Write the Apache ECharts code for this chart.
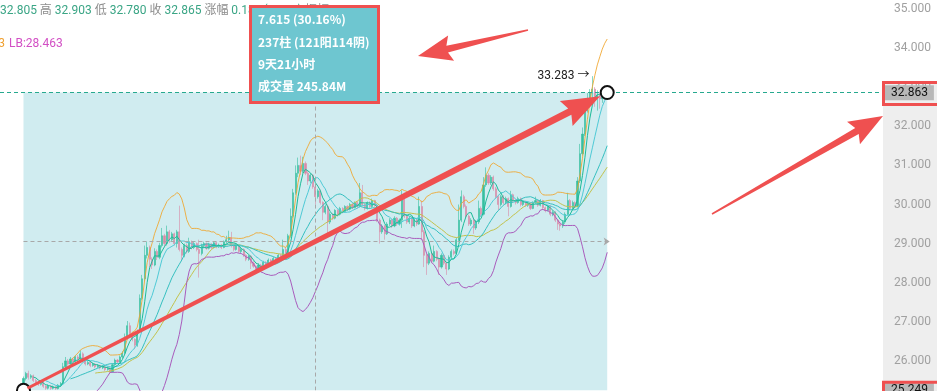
<!DOCTYPE html>
<html><head><meta charset="utf-8">
<script src="https://cdn.jsdelivr.net/npm/echarts@6/dist/echarts.min.js"></script>
<style>html,body{margin:0;padding:0;background:#fff;overflow:hidden}#c{width:937px;height:391px}</style>
</head><body><div id="c"></div>
<script>
// ---------- data ----------
const opens = [
25.28,25.55,25.68,25.58,25.62,25.50,25.45,25.40,25.46,25.35,
25.30,25.36,25.30,25.34,25.29,25.38,25.42,25.85,26.00,25.92,
26.05,25.98,26.10,26.05,26.18,26.00,25.92,25.96,25.88,25.92,
25.85,25.88,25.82,25.85,25.78,25.82,25.72,25.90,26.02,25.97,
26.10,26.20,26.60,26.90,26.70,26.55,26.40,26.75,27.60,28.10,
28.70,28.90,28.60,28.45,28.80,28.65,28.95,29.20,29.00,29.30,
29.10,29.25,29.00,29.30,28.85,28.70,28.95,28.80,29.05,28.90,
29.00,28.85,28.75,28.95,29.00,28.88,28.98,28.90,29.02,28.92,
28.96,28.90,29.05,29.10,29.15,28.95,28.85,28.95,28.80,28.85,
28.70,28.60,28.68,28.50,28.42,28.30,28.45,28.38,28.52,28.45,
28.58,28.50,28.62,28.55,28.70,28.65,28.85,28.75,29.20,29.70,
30.30,30.80,31.00,30.85,31.05,30.80,30.60,30.75,30.45,30.20,
30.35,30.05,29.80,29.95,29.55,29.75,29.65,29.85,29.75,29.90,
29.82,29.95,29.88,30.00,29.92,30.05,29.95,30.30,30.00,29.90,
30.05,29.95,30.10,29.98,29.60,29.30,29.45,29.25,29.50,29.60,
29.45,29.65,29.50,29.60,30.25,29.70,29.55,29.65,29.45,29.60,
29.50,29.95,29.30,28.70,28.50,28.75,28.55,28.80,28.60,28.40,
28.70,28.50,28.35,28.65,28.80,28.75,29.10,29.60,30.20,29.95,
29.70,29.50,29.60,29.40,29.55,29.90,29.75,30.50,30.75,30.55,
30.70,30.40,30.20,30.00,30.20,30.05,30.15,29.95,30.25,30.10,
30.05,30.15,30.00,30.08,29.98,30.02,29.90,30.05,30.10,29.98,
30.10,29.92,29.85,29.95,29.75,29.80,29.60,29.50,29.45,29.55,
29.75,30.10,29.90,30.05,29.95,30.60,31.30,31.80,32.40,32.70,
32.85,32.95,32.75,32.80,32.70,32.82,32.805];
const closes = [
25.55,25.68,25.58,25.62,25.50,25.45,25.40,25.46,25.35,25.30,
25.36,25.30,25.34,25.29,25.38,25.42,25.85,26.00,25.92,26.05,
25.98,26.10,26.05,26.18,26.00,25.92,25.96,25.88,25.92,25.85,
25.88,25.82,25.85,25.78,25.82,25.72,25.90,26.02,25.97,26.10,
26.20,26.60,26.90,26.70,26.55,26.40,26.75,27.60,28.10,28.70,
28.90,28.60,28.45,28.80,28.65,28.95,29.20,29.00,29.30,29.10,
29.25,29.00,29.30,28.85,28.70,28.95,28.80,29.05,28.90,29.00,
28.85,28.75,28.95,29.00,28.88,28.98,28.90,29.02,28.92,28.96,
28.90,29.05,29.10,29.15,28.95,28.85,28.95,28.80,28.85,28.70,
28.60,28.68,28.50,28.42,28.30,28.45,28.38,28.52,28.45,28.58,
28.50,28.62,28.55,28.70,28.65,28.85,28.75,29.20,29.70,30.30,
30.80,31.00,30.85,31.05,30.80,30.60,30.75,30.45,30.20,30.35,
30.05,29.80,29.95,29.55,29.75,29.65,29.85,29.75,29.90,29.82,
29.95,29.88,30.00,29.92,30.05,29.95,30.30,30.00,29.90,30.05,
29.95,30.10,29.98,29.60,29.30,29.45,29.25,29.50,29.60,29.45,
29.65,29.50,29.60,30.25,29.70,29.55,29.65,29.45,29.60,29.50,
29.95,29.30,28.70,28.50,28.75,28.55,28.80,28.60,28.40,28.70,
28.50,28.35,28.65,28.80,28.75,29.10,29.60,30.20,29.95,29.70,
29.50,29.60,29.40,29.55,29.90,29.75,30.50,30.75,30.55,30.70,
30.40,30.20,30.00,30.20,30.05,30.15,29.95,30.25,30.10,30.05,
30.15,30.00,30.08,29.98,30.02,29.90,30.05,30.10,29.98,30.10,
29.92,29.85,29.95,29.75,29.80,29.60,29.50,29.45,29.55,29.75,
30.10,29.90,30.05,29.95,30.60,31.30,31.80,32.40,32.70,32.85,
32.95,32.75,32.80,32.70,32.82,32.805,32.865];
const lows = [
25.249,25.50,25.52,25.54,25.46,25.40,25.36,25.37,25.31,25.26,
25.27,25.26,25.27,25.26,25.27,25.35,25.40,25.80,25.88,25.90,
25.93,25.95,26.00,26.02,25.96,25.88,25.89,25.84,25.85,25.81,
25.82,25.78,25.79,25.74,25.75,25.68,25.70,25.87,25.93,25.95,
26.06,26.18,26.55,26.65,26.50,26.30,26.36,26.72,27.55,28.05,
28.62,28.40,28.35,28.42,28.58,28.60,28.90,28.92,28.95,29.02,
29.05,28.95,28.90,28.80,28.55,28.65,28.75,28.76,28.85,28.86,
28.80,28.13,28.70,28.90,28.84,28.85,28.86,28.88,28.88,28.89,
28.86,28.88,29.00,29.05,28.90,28.80,28.82,28.76,28.76,28.66,
28.55,28.56,28.35,28.38,28.22,28.27,28.33,28.35,28.40,28.42,
28.46,28.47,28.50,28.52,28.60,28.62,28.70,28.72,29.15,29.65,
30.25,30.70,30.75,30.80,30.75,30.50,30.55,30.40,30.00,30.15,
30.00,29.60,29.75,29.20,29.50,29.60,29.62,29.70,29.72,29.78,
29.80,29.84,29.85,29.88,29.90,29.90,29.92,29.95,29.85,29.87,
29.90,29.92,29.94,29.55,29.00,29.25,29.10,29.22,29.45,29.40,
29.42,29.45,29.46,29.40,29.65,29.50,29.50,29.40,29.42,29.45,
29.48,29.10,28.40,28.20,28.45,28.50,28.52,28.55,28.20,28.36,
28.45,28.20,28.32,28.60,28.70,28.72,29.05,29.55,29.90,29.65,
29.45,29.45,29.25,29.35,29.50,29.70,29.72,30.45,30.50,30.50,
30.35,30.15,29.85,29.95,30.00,30.00,29.70,29.92,30.05,30.00,
30.02,29.95,29.96,29.94,29.94,29.86,29.88,30.02,29.94,29.95,
29.88,29.80,29.82,29.70,29.70,29.55,29.35,29.33,29.40,29.50,
29.72,29.85,29.86,29.90,29.92,30.55,31.25,31.75,32.35,32.60,
32.60,32.50,32.40,32.45,32.60,32.72,32.78];
const highs = [
25.60,25.72,25.75,25.66,25.65,25.54,25.48,25.50,25.48,25.38,
25.40,25.38,25.37,25.36,25.41,25.46,25.95,26.10,26.05,26.10,
26.08,26.14,26.15,26.27,26.22,26.03,26.00,25.99,25.96,25.94,
25.92,25.90,25.89,25.87,25.86,25.84,25.94,26.06,26.05,26.14,
26.25,26.70,27.02,26.98,26.74,26.58,26.80,27.70,28.20,28.95,
29.05,28.95,28.65,28.88,28.85,29.02,29.40,29.25,29.46,29.35,
29.30,29.28,29.35,29.97,28.90,29.00,29.00,29.15,29.08,29.04,
29.03,29.10,29.00,29.05,29.03,29.02,29.01,29.06,29.05,29.00,
28.99,29.08,29.20,29.33,29.30,28.98,28.99,28.97,28.90,28.88,
28.73,28.72,28.70,28.55,28.45,28.50,28.48,28.56,28.55,28.62,
28.61,28.66,28.65,28.74,28.73,29.10,28.90,29.25,29.90,30.40,
31.00,31.20,31.25,31.22,31.10,30.85,30.80,30.78,30.50,30.40,
30.38,30.08,30.00,30.00,29.80,29.78,29.88,29.88,29.94,29.93,
29.98,29.98,30.04,30.03,30.08,30.08,30.55,30.50,30.03,30.08,
30.08,30.15,30.12,30.00,29.64,29.50,29.48,29.55,29.65,29.63,
29.70,29.68,29.64,30.36,30.30,29.74,29.70,29.68,29.64,29.63,
30.20,30.10,29.35,28.75,28.80,28.78,28.95,28.83,28.64,28.75,
28.74,28.54,28.70,28.85,28.85,29.15,30.00,30.36,30.25,30.00,
29.74,29.65,29.64,29.60,30.10,29.95,30.70,30.95,30.80,30.75,
30.74,30.45,30.25,30.25,30.24,30.20,30.18,30.35,30.28,30.14,
30.20,30.18,30.12,30.10,30.06,30.05,30.08,30.20,30.12,30.14,
30.12,29.95,29.98,29.98,29.84,29.83,29.63,29.55,29.60,29.80,
30.30,30.14,30.10,30.08,30.70,31.55,31.97,32.60,32.85,32.95,
33.283,33.00,32.92,32.85,32.88,32.86,32.903];

const lastPrice = 32.863;
const yTicks = { min: 25, max: 35, step: 1 };
const headerItems = [['', '32.805'], ['高', '32.903'], ['低', '32.780'], ['收', '32.865'], ['涨幅', '0.18%(0.061)'], ['振幅', '0.37%']];
const legendUB = 'UB:34.093';
const legendLB = 'LB:28.463';
const rangeLines = ['7.615 (30.16%)', '237柱 (121阳114阴)', '9天21小时', '成交量 245.84M'];

// ---------- layout of the category axis ----------
const LEAD = 9, TOTAL = 357;
const categories = Array.from({ length: TOTAL }, (_, i) => 'k' + i);
const N = closes.length;

const candleData = opens.map((o, i) => [LEAD + i, o, closes[i], lows[i], highs[i]]);
function ma(n) {
  const out = [];
  for (let i = n - 1; i < N; i++) {
    let s = 0; for (let j = i - n + 1; j <= i; j++) s += closes[j];
    out.push([LEAD + i, +(s / n).toFixed(4)]);
  }
  return out;
}
function boll(n, k, sign) {
  const out = [];
  for (let i = n - 1; i < N; i++) {
    let s = 0; for (let j = i - n + 1; j <= i; j++) s += closes[j];
    const m = s / n; let v = 0;
    for (let j = i - n + 1; j <= i; j++) v += (closes[j] - m) * (closes[j] - m);
    out.push([LEAD + i, +(m + sign * k * Math.sqrt(v / n)).toFixed(4)]);
  }
  return out;
}
const firstLow = lows[0];
const maxHigh = Math.max(...highs);
const maxIdx = highs.indexOf(maxHigh);
const midPrice = (firstLow + lastPrice) / 2;
const midIdx = Math.round((N - 1) / 2);

const FONT = 'Roboto, "Noto Sans CJK SC", sans-serif';
const line = (name, data, color, opacity) => ({
  type: 'line', name, data, symbol: 'none', z: 3, silent: true,
  lineStyle: { width: 1, color, opacity: opacity || 1 }
});
const tagLabel = (txt) => ({ show: true, position: 'end', distance: 2, formatter: txt, color: '#111',
  backgroundColor: '#b8b8b8', padding: [2, 6, 1, 6], fontSize: 12, fontFamily: FONT });

const chart = echarts.init(document.getElementById('c'));
chart.setOption({
  animation: false,
  backgroundColor: '#ffffff',
  grid: { left: 0, right: 54, top: 9, bottom: -9, containLabel: false, outerBoundsMode: 'none' },
  xAxis: { type: 'category', data: categories, boundaryGap: true, show: false },
  yAxis: {
    type: 'value', position: 'right', min: yTicks.min, max: yTicks.max, interval: yTicks.step,
    splitLine: { show: false }, axisLine: { show: false }, axisTick: { show: false },
    axisLabel: { color: '#a0a0a0', fontSize: 12, fontFamily: FONT, margin: 11, formatter: v => v.toFixed(3) }
  },
  series: [
    { type: 'line', data: [], z: 1, silent: true,
      markArea: { silent: true, itemStyle: { color: '#d0ecf0' },
        data: [[{ coord: [LEAD, firstLow] }, { coord: [LEAD + N - 1, lastPrice] }]] } },
    { type: 'candlestick', data: candleData, encode: { x: 0, y: [1, 2, 3, 4] }, z: 2, barWidth: 1.6, silent: true,
      itemStyle: { color: '#36bfa0', color0: '#d98aa6', borderColor: '#36bfa0', borderColor0: '#d98aa6', borderWidth: 0.6 } },
    line('MA30', ma(30), '#c3c24c'),
    line('MID', ma(20), '#36c0c0'),
    line('MA10', ma(10), '#4fcad6'),
    line('MA5', ma(5), '#1dbb98'),
    line('UB', boll(20, 2, 1), '#f0a52a', 0.85),
    line('LB', boll(20, 2, -1), '#a95cbc'),
    { type: 'line', data: [], z: 5, silent: true,
      markLine: { silent: true, symbol: ['none', 'none'], animation: false,
        data: [
          { yAxis: lastPrice, lineStyle: { color: '#27a98f', type: [4, 3], width: 1 }, label: tagLabel(lastPrice.toFixed(3)) },
          { yAxis: firstLow, lineStyle: { color: 'rgba(0,0,0,0)', width: 0 }, label: tagLabel(firstLow.toFixed(3)) },
          [{ coord: [LEAD, midPrice], symbol: 'none' },
           { coord: [LEAD + N, midPrice], symbol: 'arrow', symbolSize: 6,
             lineStyle: { color: '#a8a8a8', type: [4, 3], width: 1 }, label: { show: false } }],
          [{ coord: [LEAD + midIdx, lastPrice], symbol: 'none' },
           { coord: [LEAD + midIdx, firstLow], symbol: 'none',
             lineStyle: { color: '#a8a8a8', type: [4, 3], width: 1 }, label: { show: false } }]
        ] },
      markPoint: { silent: true, animation: false,
        data: [
          { coord: [LEAD + maxIdx, maxHigh], symbol: 'circle', symbolSize: 0, itemStyle: { color: 'rgba(0,0,0,0)' },
            label: { show: true, position: 'left', distance: 3, formatter: maxHigh.toFixed(3) + ' →', color: '#222', fontSize: 12, fontFamily: FONT } }
        ] } },
    { type: 'line', data: [], z: 7, silent: true,
      markPoint: { silent: true, animation: false, symbol: 'circle', symbolSize: 13,
        itemStyle: { color: '#ffffff', borderColor: '#111', borderWidth: 2 }, label: { show: false },
        data: [{ coord: [LEAD, firstLow] }, { coord: [LEAD + N - 1, lastPrice] }] } }
  ]
});

// ---------- annotations (pixel space, positions from the library's scales where tied to data) ----------
function arrowPoly(tx, ty, hx, hy, tailW, shaftW, headW, headL) {
  const dx = hx - tx, dy = hy - ty, len = Math.hypot(dx, dy);
  const ux = dx / len, uy = dy / len, nx = -uy, ny = ux;
  const bx = hx - ux * headL, by = hy - uy * headL;
  return [
    [tx + nx * tailW / 2, ty + ny * tailW / 2],
    [bx + nx * shaftW / 2, by + ny * shaftW / 2],
    [bx + nx * headW / 2 - ux * 4, by + ny * headW / 2 - uy * 4],
    [hx, hy],
    [bx - nx * headW / 2 - ux * 4, by - ny * headW / 2 - uy * 4],
    [bx - nx * shaftW / 2, by - ny * shaftW / 2],
    [tx - nx * tailW / 2, ty - ny * tailW / 2]
  ];
}
const pA = chart.convertToPixel({ gridIndex: 0 }, [LEAD, firstLow]);
const pB = chart.convertToPixel({ gridIndex: 0 }, [LEAD + N - 1, lastPrice]);
const dAB = Math.hypot(pB[0] - pA[0], pB[1] - pA[1]);
const tipX = pB[0] - (pB[0] - pA[0]) / dAB * 8, tipY = pB[1] - (pB[1] - pA[1]) / dAB * 8;
const yTop = chart.convertToPixel({ yAxisIndex: 0 }, lastPrice);
const yBot = chart.convertToPixel({ yAxisIndex: 0 }, firstLow);
const RED = '#ef5050';

const rich = { v: { fill: '#3aa585', fontSize: 12, fontFamily: FONT }, l: { fill: '#8c8c8c', fontSize: 12, fontFamily: FONT } };
const headerText = headerItems.map(([l, v]) => (l ? '{l|' + l + '} ' : '') + '{v|' + v + '}').join(' ');

chart.setOption({
  graphic: { elements: [
    { type: 'rect', z: -1, silent: true, shape: { x: 883, y: yTop - 9, width: 60, height: 400 }, style: { fill: '#eeeeee' } },
    { type: 'text', z: 50, silent: true, x: 0, y: 11, style: { text: headerText, rich, fill: '#3aa585', fontSize: 12, fontFamily: FONT, verticalAlign: 'middle' } },
    { type: 'text', z: 50, silent: true, x: 5, y: 44, style: { text: legendUB, fill: '#f0a030', fontSize: 12, fontFamily: FONT, align: 'right', verticalAlign: 'middle' } },
    { type: 'text', z: 50, silent: true, x: 9, y: 44, style: { text: legendLB, fill: '#d24fc4', fontSize: 12, fontFamily: FONT, verticalAlign: 'middle' } },
    { type: 'polygon', z: 60, silent: true, shape: { points: arrowPoly(pA[0] + 4, pA[1] - 2, tipX, tipY, 3, 7, 28, 34) }, style: { fill: RED } },
    { type: 'rect', z: 70, silent: true, shape: { x: 250.5, y: 6.5, width: 128, height: 96 }, style: { fill: '#6ec6d0', stroke: RED, lineWidth: 3 } },
    ...rangeLines.map((t, i) => ({ type: 'text', z: 71, silent: true, x: 258, y: [19, 42, 64, 86][i],
      style: { text: t, fill: '#ffffff', fontSize: 12, fontWeight: 'bold', fontFamily: '"Noto Sans CJK SC", sans-serif', verticalAlign: 'middle' } })),
    { type: 'polygon', z: 72, silent: true, shape: { points: arrowPoly(528, 30, 418, 56, 1.5, 7, 26, 30) }, style: { fill: RED } },
    { type: 'polygon', z: 72, silent: true, shape: { points: arrowPoly(712, 214, 883, 116, 1.5, 7, 26, 30) }, style: { fill: RED } },
    { type: 'rect', z: 72, silent: true, shape: { x: 883.5, y: yTop - 10, width: 56, height: 22 }, style: { fill: 'none', stroke: RED, lineWidth: 3 } },
    { type: 'rect', z: 72, silent: true, shape: { x: 883.5, y: yBot - 8, width: 56, height: 22 }, style: { fill: 'none', stroke: RED, lineWidth: 3 } }
  ] }
});
</script>
</body></html>
